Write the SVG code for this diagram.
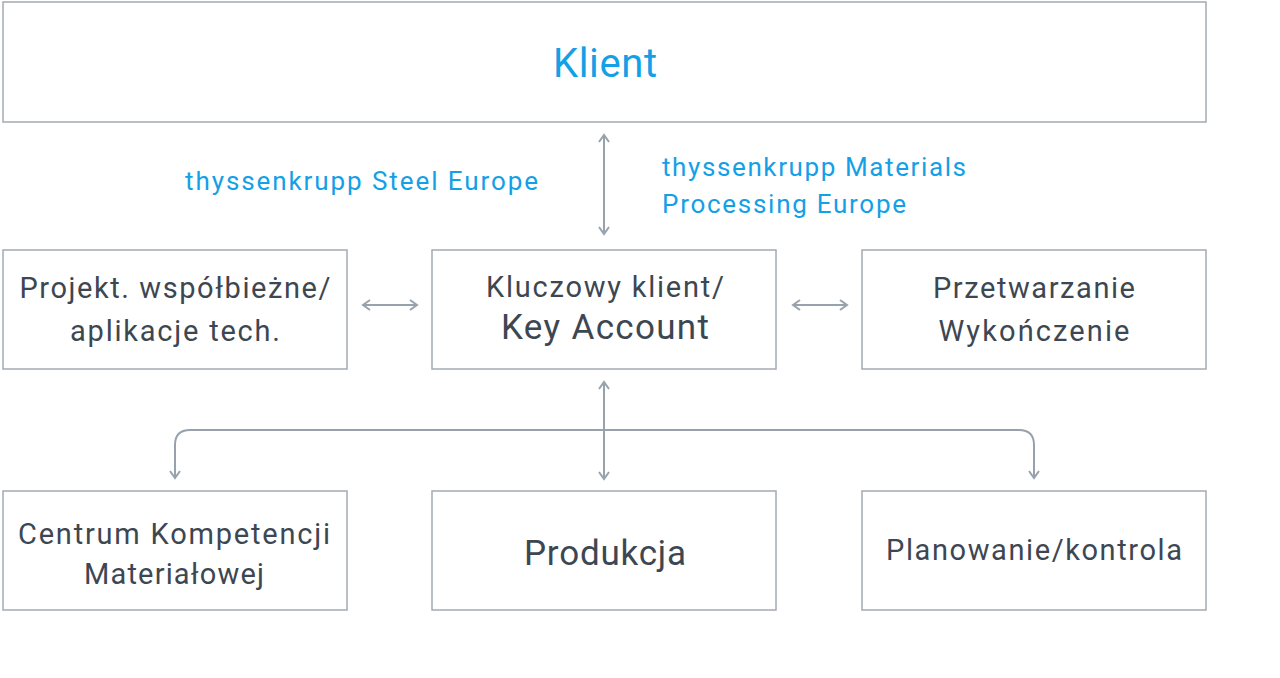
<svg xmlns="http://www.w3.org/2000/svg" width="1280" height="678" viewBox="0 0 1280 678">
<defs>
<style>
.box{fill:#fff;stroke:#a3abb3;stroke-width:1.5}
.t{font-family:Roboto,"Liberation Sans",sans-serif;fill:#3d4752;text-anchor:middle}
.b{font-family:Roboto,"Liberation Sans",sans-serif;fill:#14a0e6}
.c{fill:none;stroke:#97a2ad;stroke-width:2}
</style>
<marker id="ah" viewBox="0 0 12 12" refX="10" refY="6" markerWidth="12" markerHeight="12" markerUnits="userSpaceOnUse" orient="auto-start-reverse">
<path d="M3,1 L10,6 L3,11" fill="none" stroke="#97a2ad" stroke-width="2"/>
</marker>
</defs>
<rect width="1280" height="678" fill="#fff"/>
<g id="klient"><rect class="box" x="3" y="2" width="1203" height="120"/><text class="b" x="605" y="77" font-size="40" text-anchor="middle" textLength="104" lengthAdjust="spacing">Klient</text></g>
<g id="label-steel"><text class="b" x="185" y="190" font-size="26" textLength="353" lengthAdjust="spacing">thyssenkrupp Steel Europe</text></g>
<g id="label-mpe"><text class="b" x="662" y="176" font-size="26" textLength="304" lengthAdjust="spacing">thyssenkrupp Materials</text><text class="b" x="662" y="213" font-size="26" textLength="244" lengthAdjust="spacing">Processing Europe</text></g>
<g id="projekt"><rect class="box" x="3" y="250" width="344" height="119"/><text class="t" x="175" y="298" font-size="29" textLength="311" lengthAdjust="spacing">Projekt. współbieżne/</text><text class="t" x="175" y="341" font-size="29" textLength="210" lengthAdjust="spacing">aplikacje tech.</text></g>
<g id="key"><rect class="box" x="432" y="250" width="344" height="119"/><text class="t" x="605" y="297" font-size="29" textLength="238" lengthAdjust="spacing">Kluczowy klient/</text><text class="t" x="605" y="339" font-size="35" textLength="208" lengthAdjust="spacing">Key Account</text></g>
<g id="przetwarzanie"><rect class="box" x="862" y="250" width="344" height="119"/><text class="t" x="1034" y="298" font-size="29" textLength="202" lengthAdjust="spacing">Przetwarzanie</text><text class="t" x="1034" y="341" font-size="29" textLength="191" lengthAdjust="spacing">Wykończenie</text></g>
<g id="centrum"><rect class="box" x="3" y="491" width="344" height="119"/><text class="t" x="174" y="544" font-size="29" textLength="312" lengthAdjust="spacing">Centrum Kompetencji</text><text class="t" x="174" y="584" font-size="29" textLength="180" lengthAdjust="spacing">Materiałowej</text></g>
<g id="produkcja"><rect class="box" x="432" y="491" width="344" height="119"/><text class="t" x="605" y="565" font-size="35" textLength="162" lengthAdjust="spacing">Produkcja</text></g>
<g id="planowanie"><rect class="box" x="862" y="491" width="344" height="119"/><text class="t" x="1034" y="560" font-size="29" textLength="296" lengthAdjust="spacing">Planowanie/kontrola</text></g>
<g id="connectors">
<line class="c" x1="604" y1="135" x2="604" y2="234" marker-start="url(#ah)" marker-end="url(#ah)"/>
<line class="c" x1="363" y1="305" x2="417" y2="305" marker-start="url(#ah)" marker-end="url(#ah)"/>
<line class="c" x1="793" y1="305" x2="847" y2="305" marker-start="url(#ah)" marker-end="url(#ah)"/>
<line class="c" x1="604" y1="382" x2="604" y2="479" marker-start="url(#ah)" marker-end="url(#ah)"/>
<path class="c" d="M604,430 H190 Q175,430 175,445 V478" marker-end="url(#ah)"/>
<path class="c" d="M604,430 H1019 Q1034,430 1034,445 V478" marker-end="url(#ah)"/>
</g>
</svg>
